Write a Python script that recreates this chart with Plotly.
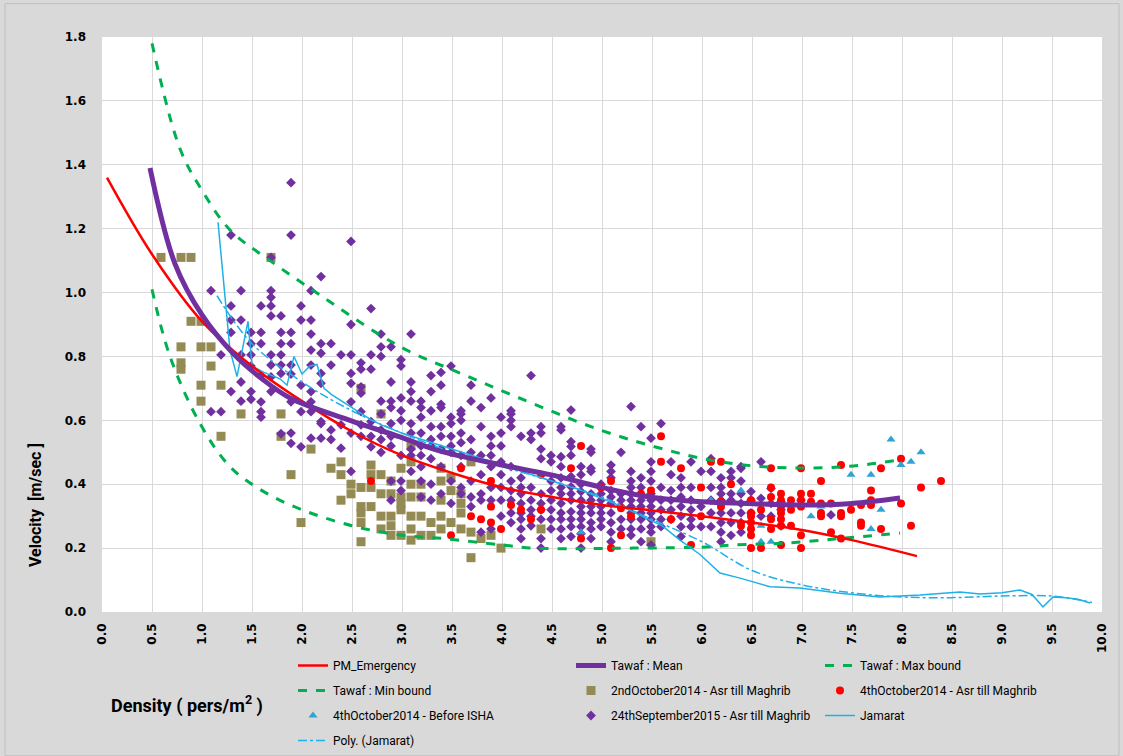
import plotly.graph_objects as go

# ---------------- data ----------------
pm_x = [0.05, 0.5, 1.0, 1.5, 2.0, 2.5, 3.0, 3.5, 4.0, 4.5, 5.0, 5.5, 6.0, 6.5, 7.0, 7.5, 8.15]
pm_y = [1.36, 1.12, 0.91, 0.77, 0.66, 0.565, 0.49, 0.435, 0.39, 0.36, 0.335, 0.318, 0.30, 0.28, 0.257, 0.225, 0.175]

mean_x = [0.48, 0.73, 1.0, 1.31, 1.6, 1.88, 2.48, 2.98, 3.35, 4.0, 4.48, 5.0, 5.48, 6.0, 6.45, 6.98, 7.5, 7.98]
mean_y = [1.39, 1.09, 0.93, 0.81, 0.73, 0.67, 0.60, 0.548, 0.507, 0.46, 0.43, 0.39, 0.36, 0.345, 0.34, 0.335, 0.34, 0.357]

max_x = [0.5, 0.78, 1.0, 1.28, 1.68, 2.21, 2.75, 3.11, 3.51, 4.15, 4.98, 5.65, 6.08, 6.65, 7.38, 7.98]
max_y = [1.78, 1.45, 1.32, 1.196, 1.10, 0.986, 0.873, 0.81, 0.757, 0.673, 0.57, 0.507, 0.476, 0.454, 0.454, 0.476]

min_x = [0.5, 0.68, 0.98, 1.28, 1.6, 2.0, 2.5, 3.0, 3.41, 4.0, 4.31, 5.31, 6.08, 6.31, 6.81, 7.38, 7.98]
min_y = [1.01, 0.80, 0.59, 0.455, 0.38, 0.32, 0.27, 0.24, 0.23, 0.21, 0.20, 0.20, 0.204, 0.21, 0.215, 0.23, 0.247]

oct2_x = [0.59, 0.79, 0.89, 1.69, 0.89, 0.99, 0.79, 0.99, 1.09, 0.79, 0.79, 1.09, 0.99, 1.19, 0.99,
          1.39, 1.79, 1.19, 1.79, 2.09, 2.29, 2.39, 2.39, 1.89, 2.49, 2.49, 2.59, 2.69, 2.69, 2.69,
          2.79, 2.79, 2.39, 2.69, 2.59, 2.59, 2.59, 2.59, 1.99, 2.79, 2.79, 2.89, 2.89, 2.89, 2.89,
          2.89, 2.99, 2.99, 2.99, 2.99, 2.99, 3.09, 3.09, 3.09, 3.09, 3.09, 3.09, 3.19, 3.19, 3.19,
          3.19, 3.29, 3.29, 3.39, 3.39, 3.39, 3.39, 3.39, 3.49, 3.49, 3.49, 3.59, 3.59, 3.59, 3.59,
          3.69, 3.69, 3.69, 3.79, 3.89, 3.99, 2.59, 2.79, 3.09, 4.39, 5.49]
oct2_y = [1.11, 1.11, 1.11, 1.11, 0.91, 0.91, 0.83, 0.83, 0.83, 0.78, 0.76, 0.77, 0.71, 0.71, 0.66,
          0.62, 0.62, 0.55, 0.55, 0.51, 0.45, 0.47, 0.43, 0.43, 0.40, 0.37, 0.39, 0.46, 0.43, 0.39,
          0.43, 0.37, 0.35, 0.33, 0.33, 0.31, 0.28, 0.22, 0.28, 0.30, 0.26, 0.41, 0.37, 0.30, 0.27,
          0.24, 0.45, 0.36, 0.34, 0.32, 0.24, 0.47, 0.40, 0.36, 0.30, 0.26, 0.225, 0.40, 0.36, 0.30,
          0.24, 0.28, 0.24, 0.45, 0.41, 0.35, 0.30, 0.26, 0.42, 0.38, 0.28, 0.37, 0.34, 0.31, 0.26,
          0.47, 0.25, 0.17, 0.23, 0.24, 0.20, 0.70, 0.62, 0.52, 0.26, 0.22]

oct4_asr_x = [2.69, 3.49, 3.59, 3.69, 3.79, 3.89, 3.89, 3.89, 3.99, 4.09, 4.19, 4.29, 4.39, 4.39,
              4.69, 4.79, 4.79, 4.99, 5.09, 5.09, 5.19, 5.19, 5.29, 5.39, 5.49, 5.59, 5.59, 5.69,
              5.79, 5.89, 5.99, 5.99, 6.09, 6.19, 6.19, 6.19, 6.29, 6.39, 6.49, 6.49, 6.49, 6.49,
              6.49, 6.49, 6.49, 6.59, 6.59, 6.69, 6.69, 6.69, 6.69, 6.69, 6.79, 6.79, 6.79, 6.79,
              6.79, 6.79, 6.79, 6.89, 6.89, 6.89, 6.99, 6.99, 6.99, 6.99, 6.99, 6.99, 7.09, 7.09,
              7.19, 7.19, 7.19, 7.19, 7.29, 7.29, 7.39, 7.39, 7.39, 7.39, 7.49, 7.59, 7.59, 7.59,
              7.69, 7.69, 7.69, 7.79, 7.79, 7.99, 7.99, 8.09, 8.19, 8.39]
oct4_asr_y = [0.41, 0.24, 0.45, 0.30, 0.29, 0.41, 0.33, 0.28, 0.26, 0.335, 0.32, 0.29, 0.43, 0.32,
              0.45, 0.52, 0.23, 0.39, 0.41, 0.20, 0.325, 0.24, 0.30, 0.37, 0.38, 0.55, 0.47, 0.29,
              0.45, 0.21, 0.39, 0.30, 0.47, 0.47, 0.345, 0.33, 0.40, 0.27, 0.35, 0.31, 0.28, 0.26,
              0.24, 0.30, 0.20, 0.32, 0.20, 0.45, 0.39, 0.36, 0.29, 0.26, 0.37, 0.35, 0.33, 0.31,
              0.29, 0.27, 0.21, 0.35, 0.32, 0.27, 0.45, 0.37, 0.35, 0.33, 0.24, 0.20, 0.37, 0.345,
              0.41, 0.34, 0.31, 0.30, 0.34, 0.25, 0.46, 0.31, 0.30, 0.23, 0.32, 0.335, 0.28, 0.27,
              0.38, 0.35, 0.335, 0.45, 0.26, 0.48, 0.34, 0.27, 0.39, 0.41]

oct4_isha_x = [4.79, 6.09, 6.39, 6.59, 6.59, 6.69, 7.09, 7.19, 7.49, 7.69, 7.69, 7.79, 7.89, 7.99, 8.09, 8.19]
oct4_isha_y = [0.25, 0.35, 0.38, 0.27, 0.22, 0.22, 0.30, 0.33, 0.43, 0.43, 0.26, 0.32, 0.54, 0.46, 0.47, 0.50]

sep24_x = [
    1.09, 1.09, 1.19, 1.19,
    1.29, 1.29, 1.29, 1.29, 1.29,
    1.39, 1.39, 1.39, 1.39, 1.39,
    1.49, 1.49, 1.49, 1.49, 1.49, 1.49,
    1.59, 1.59, 1.59, 1.59, 1.59, 1.59, 1.59,
    1.69, 1.69, 1.69, 1.69, 1.69, 1.69, 1.69, 1.69, 1.69,
    1.79, 1.79, 1.79, 1.79, 1.79, 1.79, 1.79,
    1.89, 1.89, 1.89, 1.89, 1.89, 1.89, 1.89, 1.89, 1.89,
    1.99, 1.99, 1.99, 1.99, 1.99,
    2.09, 2.09, 2.09, 2.09, 2.09, 2.09, 2.09, 2.09, 2.09,
    2.19, 2.19, 2.19, 2.19, 2.19, 2.19, 2.19, 2.19,
    2.29, 2.29, 2.29, 2.29,
    2.39, 2.39, 2.39,
    2.49, 2.49, 2.49, 2.49, 2.49, 2.49, 2.49, 2.49,
    2.59, 2.59, 2.59, 2.59, 2.59, 2.59, 2.59,
    2.69, 2.69, 2.69, 2.69, 2.69, 2.69,
    2.79, 2.79, 2.79, 2.79, 2.79, 2.79, 2.79, 2.79,
    2.89, 2.89, 2.89, 2.89, 2.89, 2.89, 2.89, 2.89, 2.89,
    2.99, 2.99, 2.99, 2.99, 2.99, 2.99, 2.99, 2.99,
    3.09, 3.09, 3.09, 3.09, 3.09, 3.09, 3.09, 3.09, 3.09,
    3.19, 3.19, 3.19, 3.19, 3.19, 3.19, 3.19, 3.19, 3.19,
    3.29, 3.29, 3.29, 3.29, 3.29, 3.29, 3.29, 3.29, 3.29,
    3.39, 3.39, 3.39, 3.39, 3.39, 3.39, 3.39, 3.39, 3.39,
    3.49, 3.49, 3.49, 3.49, 3.49, 3.49, 3.49, 3.49,
    3.59, 3.59, 3.59, 3.59, 3.59, 3.59, 3.59, 3.59, 3.59,
    3.69, 3.69, 3.69, 3.69, 3.69, 3.69, 3.69,
    3.79, 3.79, 3.79, 3.79, 3.79, 3.79, 3.79,
    3.89, 3.89, 3.89, 3.89, 3.89, 3.89, 3.89, 3.89,
    3.99, 3.99, 3.99, 3.99, 3.99, 3.99, 3.99, 3.99,
    4.09, 4.09, 4.09, 4.09, 4.09, 4.09, 4.09, 4.09, 4.09, 4.09,
    4.19, 4.19, 4.19, 4.19, 4.19, 4.19, 4.19, 4.19, 4.19,
    4.29, 4.29, 4.29, 4.29, 4.29, 4.29, 4.29, 4.29,
    4.39, 4.39, 4.39, 4.39, 4.39, 4.39, 4.39, 4.39, 4.39, 4.39,
    4.49, 4.49, 4.49, 4.49, 4.49, 4.49, 4.49, 4.49,
    4.59, 4.59, 4.59, 4.59, 4.59, 4.59, 4.59, 4.59, 4.59, 4.59, 4.59, 4.59,
    4.69, 4.69, 4.69, 4.69, 4.69, 4.69, 4.69, 4.69, 4.69, 4.69, 4.69, 4.69,
    4.79, 4.79, 4.79, 4.79, 4.79, 4.79, 4.79, 4.79, 4.79, 4.79, 4.79,
    4.89, 4.89, 4.89, 4.89, 4.89, 4.89, 4.89, 4.89, 4.89, 4.89, 4.89,
    4.99, 4.99, 4.99, 4.99, 4.99, 4.99, 4.99,
    5.09, 5.09, 5.09, 5.09, 5.09, 5.09, 5.09, 5.09, 5.09, 5.09,
    5.19, 5.19, 5.19, 5.19, 5.19, 5.19,
    5.29, 5.29, 5.29, 5.29, 5.29, 5.29, 5.29, 5.29, 5.29, 5.29, 5.29,
    5.39, 5.39, 5.39, 5.39, 5.39, 5.39, 5.39, 5.39, 5.39,
    5.49, 5.49, 5.49, 5.49, 5.49, 5.49, 5.49, 5.49, 5.49, 5.49, 5.49, 5.49,
    5.59, 5.59, 5.59, 5.59, 5.59, 5.59,
    5.69, 5.69, 5.69, 5.69, 5.69, 5.69,
    5.79, 5.79, 5.79, 5.79, 5.79, 5.79, 5.79,
    5.89, 5.89, 5.89, 5.89, 5.89, 5.89,
    5.99, 5.99, 5.99,
    6.09, 6.09, 6.09, 6.09, 6.09, 6.09,
    6.19, 6.19, 6.19, 6.19, 6.19, 6.19, 6.19, 6.19,
    6.29, 6.29, 6.29, 6.29, 6.29, 6.29, 6.29,
    6.39, 6.39, 6.39, 6.39, 6.39, 6.39, 6.39, 6.39,
    6.49, 6.49, 6.49,
    6.59, 6.59, 6.59,
    6.69, 6.69, 6.69,
    6.79, 6.79, 6.79,
    6.99, 7.29,
]
sep24_y = [
    1.006, 0.627, 0.805, 0.627,
    1.18, 0.958, 0.914, 0.875, 0.69,
    1.006, 0.914, 0.805, 0.72, 0.66,
    0.875, 0.84, 0.805, 0.77, 0.69, 0.666,
    0.958, 0.875, 0.84, 0.74, 0.658, 0.627, 0.61,
    1.11, 1.006, 0.985, 0.958, 0.927, 0.805, 0.773, 0.736, 0.69,
    0.927, 0.875, 0.84, 0.805, 0.773, 0.747, 0.558,
    1.344, 1.18, 0.875, 0.84, 0.773, 0.745, 0.658, 0.56, 0.528,
    0.958, 0.914, 0.71, 0.627, 0.517,
    1.006, 0.914, 0.87, 0.82, 0.773, 0.69, 0.658, 0.627, 0.544,
    1.05, 0.84, 0.81, 0.747, 0.716, 0.596, 0.59, 0.544,
    0.84, 0.773, 0.57, 0.54,
    0.805, 0.586, 0.513,
    1.16, 0.90, 0.805, 0.747, 0.716, 0.658, 0.56, 0.44,
    0.78, 0.76, 0.705, 0.685, 0.627, 0.586, 0.55,
    0.95, 0.805, 0.76, 0.596, 0.55, 0.517,
    0.87, 0.83, 0.80, 0.66, 0.62, 0.57, 0.54, 0.50,
    0.83, 0.72, 0.66, 0.64, 0.59, 0.55, 0.52, 0.41, 0.35,
    0.79, 0.77, 0.67, 0.63, 0.60, 0.49, 0.41, 0.38,
    0.87, 0.72, 0.69, 0.66, 0.59, 0.56, 0.51, 0.49, 0.44,
    0.66, 0.64, 0.61, 0.56, 0.52, 0.49, 0.455, 0.41, 0.36,
    0.74, 0.69, 0.63, 0.58, 0.54, 0.52, 0.48, 0.40, 0.35,
    0.75, 0.71, 0.65, 0.64, 0.58, 0.55, 0.51, 0.455, 0.37,
    0.77, 0.61, 0.59, 0.55, 0.52, 0.50, 0.41, 0.34,
    0.63, 0.62, 0.60, 0.56, 0.53, 0.49, 0.455, 0.39, 0.37,
    0.71, 0.66, 0.54, 0.50, 0.41, 0.36, 0.33,
    0.64, 0.58, 0.49, 0.43, 0.37, 0.35, 0.25,
    0.67, 0.55, 0.52, 0.49, 0.455, 0.39, 0.35, 0.26,
    0.61, 0.56, 0.52, 0.47, 0.43, 0.39, 0.35, 0.30,
    0.63, 0.62, 0.60, 0.58, 0.455, 0.41, 0.38, 0.35, 0.31, 0.28,
    0.55, 0.42, 0.39, 0.37, 0.34, 0.31, 0.29, 0.26, 0.23,
    0.74, 0.56, 0.54, 0.39, 0.35, 0.32, 0.30, 0.27,
    0.58, 0.56, 0.51, 0.48, 0.37, 0.34, 0.32, 0.29, 0.23, 0.20,
    0.49, 0.47, 0.41, 0.38, 0.35, 0.32, 0.29, 0.26,
    0.58, 0.57, 0.486, 0.455, 0.42, 0.39, 0.37, 0.34, 0.31, 0.29, 0.26, 0.23,
    0.632, 0.533, 0.518, 0.49, 0.424, 0.392, 0.37, 0.35, 0.314, 0.29, 0.267, 0.236,
    0.455, 0.43, 0.40, 0.377, 0.35, 0.33, 0.31, 0.29, 0.267, 0.245, 0.20,
    0.51, 0.50, 0.45, 0.44, 0.37, 0.35, 0.33, 0.31, 0.28, 0.26, 0.23,
    0.40, 0.37, 0.35, 0.33, 0.31, 0.29, 0.267,
    0.46, 0.44, 0.42, 0.38, 0.36, 0.34, 0.31, 0.28, 0.25, 0.22,
    0.50, 0.37, 0.35, 0.33, 0.29, 0.26,
    0.643, 0.44, 0.41, 0.39, 0.37, 0.35, 0.33, 0.31, 0.29, 0.26, 0.24,
    0.58, 0.42, 0.39, 0.35, 0.33, 0.31, 0.29, 0.26, 0.22,
    0.544, 0.47, 0.44, 0.41, 0.37, 0.35, 0.33, 0.31, 0.29, 0.267, 0.25, 0.21,
    0.59, 0.39, 0.35, 0.32, 0.29, 0.267,
    0.47, 0.43, 0.38, 0.35, 0.32, 0.29,
    0.42, 0.39, 0.36, 0.33, 0.30, 0.267, 0.236,
    0.47, 0.39, 0.35, 0.32, 0.29, 0.267,
    0.44, 0.33, 0.267,
    0.48, 0.44, 0.39, 0.35, 0.31, 0.267,
    0.42, 0.39, 0.37, 0.35, 0.31, 0.28, 0.25, 0.22,
    0.44, 0.42, 0.37, 0.35, 0.31, 0.28, 0.24,
    0.455, 0.45, 0.41, 0.37, 0.34, 0.31, 0.28, 0.25,
    0.377, 0.35, 0.31,
    0.47, 0.356, 0.30,
    0.387, 0.34, 0.30,
    0.345, 0.32, 0.27,
    0.35, 0.304,
]

jam_x = [1.16, 1.28, 1.35, 1.46, 1.50, 1.56, 1.62, 1.70, 1.78, 1.85, 1.92, 2.0, 2.08, 2.15, 2.22,
         2.3, 2.4, 2.5, 2.6, 2.7, 2.8, 3.0, 3.2, 3.4, 3.6, 3.8, 4.0, 4.2, 4.4, 4.6, 4.8, 5.0,
         5.2, 5.4, 5.6, 5.78, 5.98, 6.18, 6.38, 6.68, 6.98, 7.38, 7.78, 8.18, 8.58, 8.78, 9.0,
         9.18, 9.3, 9.41, 9.51, 9.64, 9.76, 9.88]
jam_y = [1.22, 0.82, 0.737, 0.91, 0.77, 0.76, 0.75, 0.74, 0.73, 0.71, 0.80, 0.745, 0.77, 0.775, 0.70,
         0.68, 0.66, 0.64, 0.62, 0.60, 0.585, 0.56, 0.54, 0.52, 0.50, 0.48, 0.46, 0.44, 0.42, 0.40,
         0.38, 0.355, 0.33, 0.30, 0.27, 0.225, 0.18, 0.122, 0.106, 0.079, 0.075, 0.059, 0.047, 0.053,
         0.063, 0.056, 0.06, 0.069, 0.055, 0.016, 0.047, 0.045, 0.04, 0.028]

poly_x = [1.15, 1.5, 2.0, 2.5, 3.0, 3.5, 4.0, 4.5, 5.0, 5.5, 6.0, 6.5, 7.0, 7.5, 8.0, 8.5, 9.0, 9.5, 9.9]
poly_y = [0.99, 0.84, 0.72, 0.63, 0.56, 0.50, 0.455, 0.41, 0.36, 0.29, 0.22, 0.13, 0.085, 0.06, 0.047, 0.045, 0.05, 0.05, 0.03]

x_ticks = [0.0, 0.5, 1.0, 1.5, 2.0, 2.5, 3.0, 3.5, 4.0, 4.5, 5.0, 5.5, 6.0, 6.5, 7.0, 7.5, 8.0, 8.5, 9.0, 9.5, 10.0]
y_ticks = [0.0, 0.2, 0.4, 0.6, 0.8, 1.0, 1.2, 1.4, 1.6, 1.8]

# ---------------- styles ----------------
RED = "#ff0000"
PURPLE = "#7030a0"
GREEN = "#00b050"
OLIVE = "#948a54"
TEAL = "#2fa4d4"
CYAN = "#1fb0e8"
NARROW = "Liberation Sans Narrow, Arial Narrow, Roboto, sans-serif"

fig = go.Figure()

# markers first (drawn underneath the lines)
fig.add_trace(go.Scatter(x=oct2_x, y=oct2_y, mode="markers", name="2ndOctober2014 - Asr till Maghrib",
                         marker=dict(symbol="square", size=9, color=OLIVE),
                         legend="legend2", legendgroup="g5", legendrank=2))
fig.add_trace(go.Scatter(x=sep24_x, y=sep24_y, mode="markers", name="24thSeptember2015 - Asr till Maghrib",
                         marker=dict(symbol="diamond", size=7.5, color=PURPLE),
                         legend="legend2", legendgroup="g8", legendrank=3))
fig.add_trace(go.Scatter(x=oct4_asr_x, y=oct4_asr_y, mode="markers", name="4thOctober2014 - Asr till Maghrib",
                         marker=dict(symbol="circle", size=8, color=RED),
                         legend="legend3", legendgroup="g6", legendrank=2))
fig.add_trace(go.Scatter(x=oct4_isha_x, y=oct4_isha_y, mode="markers", name="4thOctober2014 - Before ISHA",
                         marker=dict(symbol="triangle-up", size=8, color=TEAL),
                         legend="legend", legendgroup="g7", legendrank=3))

# lines
fig.add_trace(go.Scatter(x=max_x, y=max_y, mode="lines", name="Tawaf : Max bound",
                         line=dict(color=GREEN, width=3, dash="dash", shape="spline"),
                         legend="legend3", legendgroup="g3", legendrank=1))
fig.add_trace(go.Scatter(x=min_x, y=min_y, mode="lines", name="Tawaf : Min bound",
                         line=dict(color=GREEN, width=3, dash="dash", shape="spline"),
                         legend="legend", legendgroup="g4", legendrank=2))
fig.add_trace(go.Scatter(x=jam_x, y=jam_y, mode="lines", name="Jamarat",
                         line=dict(color=CYAN, width=1.5),
                         legend="legend3", legendgroup="g9", legendrank=3))
fig.add_trace(go.Scatter(x=poly_x, y=poly_y, mode="lines", name="Poly. (Jamarat)",
                         line=dict(color=CYAN, width=1.5, dash="dashdot", shape="spline"),
                         legend="legend", legendgroup="g10", legendrank=4))
fig.add_trace(go.Scatter(x=pm_x, y=pm_y, mode="lines", name="PM_Emergency",
                         line=dict(color=RED, width=2.5, shape="spline"),
                         legend="legend", legendgroup="g1", legendrank=1))
fig.add_trace(go.Scatter(x=mean_x, y=mean_y, mode="lines", name="Tawaf : Mean",
                         line=dict(color=PURPLE, width=5, shape="spline"),
                         legend="legend2", legendgroup="g2", legendrank=1))

legend_common = dict(orientation="v", yanchor="top", xanchor="left",
                     yref="container", y=1 - 651 / 756,
                     bgcolor="rgba(0,0,0,0)", font=dict(family=NARROW, size=12, color="#000000"),
                     tracegroupgap=6, itemwidth=30)

TICKFONT = dict(family="DejaVu Sans", size=12, color="#000000", weight="bold")

fig.update_layout(
    width=1123, height=756,
    margin=dict(l=102, r=21, t=37, b=144),
    paper_bgcolor="#d9d9d9",
    plot_bgcolor="#ffffff",
    showlegend=True,
    legend=dict(legend_common, x=0.191),
    legend2=dict(legend_common, x=0.469),
    legend3=dict(legend_common, x=0.718),
    xaxis=dict(range=[0, 10], tickvals=x_ticks, ticktext=[f"{v:.1f}" for v in x_ticks],
               tickangle=-90, showgrid=True, gridcolor="#d9d9d9", gridwidth=1,
               zeroline=False, showline=False, ticks="", ticklabelstandoff=8,
               tickfont=TICKFONT, automargin=False),
    yaxis=dict(range=[0, 1.8], tickvals=y_ticks, ticktext=[f"{v:.1f}" for v in y_ticks],
               showgrid=True, gridcolor="#d9d9d9", gridwidth=1,
               zeroline=False, showline=False, ticks="", ticklabelstandoff=15,
               tickfont=TICKFONT, automargin=False),
    annotations=[
        dict(text="Velocity  [m/sec ]", xref="paper", yref="paper",
             x=-0.067, y=(612 - 505) / 575, textangle=-90, showarrow=False,
             xanchor="center", yanchor="middle",
             font=dict(family=NARROW, size=16, color="#000000", weight="bold")),
        dict(text="Density ( pers/m<sup>2</sup> )", xref="paper", yref="paper",
             x=0.007, y=-(704 - 612) / 575, showarrow=False,
             xanchor="left", yanchor="middle",
             font=dict(family=NARROW, size=18, color="#000000", weight="bold")),
    ],
    shapes=[dict(type="rect", xref="paper", yref="paper", x0=-0.097, x1=1.017,
                 y0=-0.25, y1=1.058, line=dict(color="#bfbfbf", width=1), fillcolor="rgba(0,0,0,0)",
                 layer="below")],
)

fig.write_html("out.html")
